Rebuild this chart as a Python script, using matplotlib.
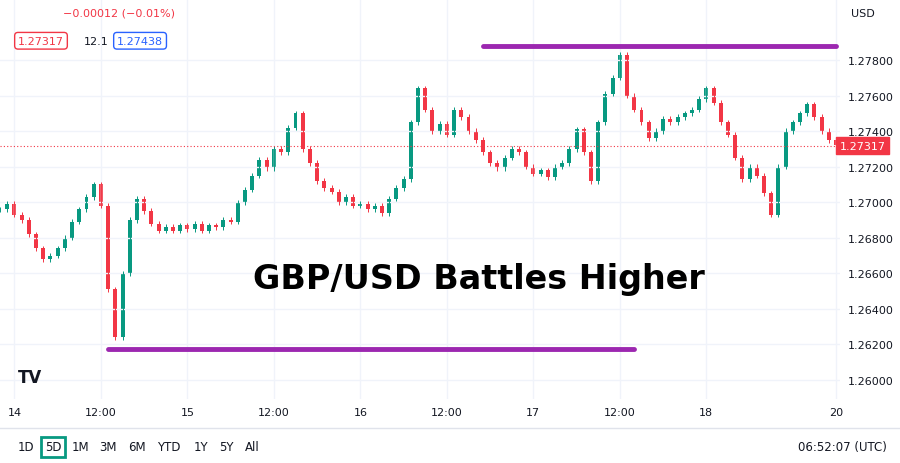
import matplotlib.pyplot as plt
import numpy as np

# hourly closes, hour 0 = day 14 00:00
start_hour = -2
closes = [
    1.2696, 1.2699, 1.2693,
    1.2690, 1.2682, 1.2674, 1.2668, 1.2670, 1.2674, 1.2680, 1.2689, 1.2696,
    1.2703, 1.2710, 1.2698, 1.2651, 1.2624, 1.2660, 1.2690, 1.2702, 1.2695,
    1.2688, 1.2684, 1.2686, 1.2684, 1.2687, 1.2685, 1.2688, 1.2684, 1.2687,
    1.2686, 1.2690, 1.2689, 1.2700, 1.2707, 1.2715, 1.2724, 1.2719, 1.2730,
    1.2728, 1.2742, 1.2750, 1.2730, 1.2722, 1.2712, 1.2708, 1.2706, 1.2700,
    1.2703, 1.2698, 1.2699, 1.2696, 1.2698, 1.2694, 1.2702, 1.2708, 1.2713,
    1.2745, 1.2764, 1.2752, 1.2740, 1.2744, 1.2738, 1.2752, 1.2748, 1.2740,
    1.2735, 1.2728, 1.2722, 1.2719, 1.2725, 1.2730, 1.2728, 1.2720, 1.2716,
    1.2718, 1.2714, 1.2720, 1.2722, 1.2730, 1.2741, 1.2728, 1.2712, 1.2745,
    1.2761, 1.2770, 1.2783, 1.2760, 1.2752, 1.2745, 1.2736, 1.2740, 1.2747,
    1.2745, 1.2748, 1.2750, 1.2752, 1.2758, 1.2764, 1.2756, 1.2745, 1.2738,
    1.2725, 1.2713, 1.2720, 1.2715, 1.2705, 1.2693, 1.2720, 1.2740, 1.2745,
    1.2750, 1.2755, 1.2748, 1.2740, 1.2735, 1.2732,
]
last_price = 1.27317
resistance = 1.27880
support = 1.26174
x_ticks = [0, 12, 24, 36, 48, 60, 72, 84, 96, 114]
x_labels = ["14", "12:00", "15", "12:00", "16", "12:00", "17", "12:00", "18", "20"]
y_ticks = [1.26, 1.262, 1.264, 1.266, 1.268, 1.27, 1.272, 1.274, 1.276, 1.278]

up, down = "#089981", "#f23645"

fig = plt.figure(figsize=(9, 4.64), dpi=100)
ax = fig.add_axes([0.0, 0.138, 0.933, 0.862])

hours = np.arange(len(closes)) + start_hour
opens = [closes[0]] + closes[:-1]
for h, o, c in zip(hours, opens, closes):
    col = up if c >= o else down
    lo, hi = min(o, c), max(o, c)
    ax.vlines(h, lo - 0.00015, hi + 0.00015, color=col, lw=0.7)
    ax.bar(h, max(hi - lo, 0.00003), bottom=lo, width=0.55, color=col)

ax.plot([65, 114], [resistance, resistance], color="#9c27b0", lw=3.5, solid_capstyle="round")
ax.plot([13, 86], [support, support], color="#9c27b0", lw=3.5, solid_capstyle="round")
ax.axhline(last_price, color=down, lw=0.8, ls=(0, (1, 2)))

ax.text(0.57, 0.30, "GBP/USD Battles Higher", transform=ax.transAxes, ha="center",
        va="center", fontsize=24, fontweight="bold", color="black")

ax.set_xlim(-2, 114.5)
ax.set_ylim(1.25893, 1.28143)
ax.yaxis.tick_right()
ax.set_yticks(y_ticks)
ax.set_yticklabels([f"{v:.5f}" for v in y_ticks], fontsize=8, color="#131722")
ax.set_xticks(x_ticks)
ax.set_xticklabels(x_labels, fontsize=8, color="#131722")
ax.tick_params(length=0, pad=6)
ax.grid(color="#f0f3fa", lw=1)
for s in ax.spines.values():
    s.set_visible(False)
ax.text(1.0, last_price, f"{last_price:.5f}", transform=ax.get_yaxis_transform(),
        ha="left", va="center", fontsize=8, color="white",
        bbox=dict(boxstyle="square,pad=0.3", fc=down, ec=down))

fig.text(0.07, 0.97, "−0.00012 (−0.01%)", fontsize=8, color=down, va="center")
fig.text(0.02, 0.91, "1.27317", fontsize=8, color=down, va="center",
         bbox=dict(boxstyle="round,pad=0.3", fc="white", ec=down))
fig.text(0.093, 0.91, "12.1", fontsize=8, color="#131722", va="center")
fig.text(0.13, 0.91, "1.27438", fontsize=8, color="#2962ff", va="center",
         bbox=dict(boxstyle="round,pad=0.3", fc="white", ec="#2962ff"))
fig.text(0.945, 0.97, "USD", fontsize=8, color="#131722", va="center")
fig.text(0.02, 0.175, "TV", fontsize=12, fontweight="bold", color="#131722")

fig.add_artist(plt.Line2D([0, 1], [0.075, 0.075], color="#e0e3eb", lw=1))
buttons = ["1D", "5D", "1M", "3M", "6M", "YTD", "1Y", "5Y", "All"]
bx = [0.02, 0.05, 0.08, 0.11, 0.142, 0.175, 0.215, 0.243, 0.272]
for x, b in zip(bx, buttons):
    fig.text(x, 0.035, b, fontsize=8.5, color="#131722", va="center",
             bbox=dict(boxstyle="square,pad=0.3", fc="white", ec="#089981", lw=2) if b == "5D" else None)
fig.text(0.985, 0.035, "06:52:07 (UTC)", fontsize=8.5, color="#131722", va="center", ha="right")

fig.savefig("out.png", dpi=100, facecolor="white")
